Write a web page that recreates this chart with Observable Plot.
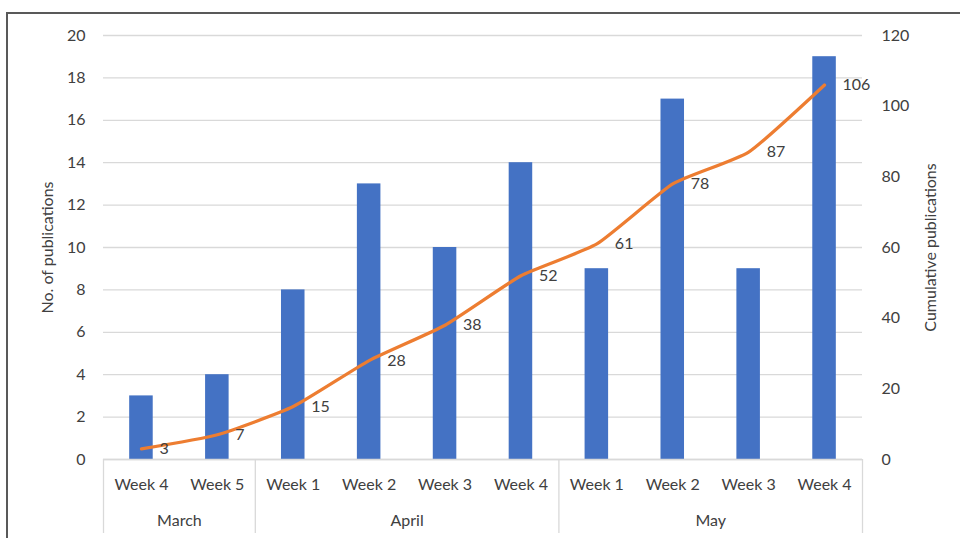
<!DOCTYPE html>
<html>
<head>
<meta charset="utf-8">
<script src="https://cdn.jsdelivr.net/npm/d3@7"></script>
<script src="https://cdn.jsdelivr.net/npm/@observablehq/plot@0.6"></script>
<style>
  html, body { margin: 0; padding: 0; background: #fff; }
  #wrap { position: relative; width: 960px; height: 538px; overflow: hidden; }
  #frame { position: absolute; left: 6px; top: 12px; width: 980px; height: 600px;
           border-left: 2px solid #595959; border-top: 2px solid #595959; box-sizing: border-box; }
  #chart { position: absolute; left: 0; top: 0; }
</style>
</head>
<body>
<div id="wrap"><div id="frame"></div><div id="chart"></div></div>
<script>
const months = ["March", "March", "April", "April", "April", "April", "May", "May", "May", "May"];
const weeks = ["Week 4", "Week 5", "Week 1", "Week 2", "Week 3", "Week 4", "Week 1", "Week 2", "Week 3", "Week 4"];
const publications = [3, 4, 8, 13, 10, 14, 9, 17, 9, 19];
const cumulative = [3, 7, 15, 28, 38, 52, 61, 78, 87, 106];
const leftTicks = [0, 2, 4, 6, 8, 10, 12, 14, 16, 18, 20];
const rightTicks = [0, 20, 40, 60, 80, 100, 120];
const ratio = 120 / 20;

const data = weeks.map((w, i) => ({i, week: w, month: months[i], n: publications[i], cum: cumulative[i]}));

// month groups
const groups = [];
months.forEach((m, i) => {
  const g = groups[groups.length - 1];
  if (g && g.month === m) g.end = i + 1;
  else groups.push({month: m, start: i, end: i + 1});
});
const bounds = [0, ...groups.map(g => g.end)];

const font = "Lato, 'Open Sans', sans-serif";
const grey = "#404040";
const gridC = "#d9d9d9";
const fs = 16;

const chart = Plot.plot({
  width: 960,
  height: 538,
  marginTop: 35,
  marginBottom: 79,
  marginLeft: 103,
  marginRight: 98,
  style: {fontFamily: font, fontSize: fs + "px", color: grey, background: "transparent", overflow: "visible"},
  x: {domain: [0, weeks.length], axis: null},
  y: {domain: [0, 20], axis: null},
  marks: [
    Plot.ruleY(leftTicks, {stroke: gridC, strokeWidth: 1.3}),
    Plot.rectY(data, {x1: d => d.i + 0.345, x2: d => d.i + 0.655, y: "n", fill: "#4472C4"}),
    Plot.line(data, {x: d => d.i + 0.5, y: d => d.cum / ratio, stroke: "#ED7D31", strokeWidth: 3.2, curve: "cardinal", tension: 0.5}),
    Plot.text(data, {x: d => d.i + 0.5, y: d => d.cum / ratio, text: d => String(d.cum), dx: 18, textAnchor: "start", fill: grey, fontSize: fs}),
    // left axis
    Plot.axisY(leftTicks, {anchor: "left", tickSize: 0, tickPadding: 18, fill: grey, fontSize: fs, label: null}),
    // right axis
    Plot.axisY(rightTicks.map(t => t / ratio), {anchor: "right", tickSize: 0, tickPadding: 19, fill: grey, fontSize: fs, label: null, tickFormat: d => String(Math.round(d * ratio))}),
    // category axis line and separators
    Plot.ruleY([0], {stroke: gridC, strokeWidth: 1.3}),
    Plot.ruleX(bounds, {y1: 0, y2: 0, stroke: gridC, strokeWidth: 1.3, insetBottom: -74}),
    Plot.text(data, {x: d => d.i + 0.5, y: 0, text: "week", dy: 25, fill: grey, fontSize: fs}),
    Plot.text(groups, {x: d => (d.start + d.end) / 2, y: 0, text: "month", dy: 61, fill: grey, fontSize: fs}),
    // axis titles
    Plot.text(["No. of publications"], {frameAnchor: "left", dx: -56, rotate: -90, fill: grey, fontSize: fs, textAnchor: "middle"}),
    Plot.text(["Cumulative publications"], {frameAnchor: "right", dx: 68, rotate: -90, fill: grey, fontSize: fs, textAnchor: "middle"})
  ]
});
document.getElementById("chart").appendChild(chart);
</script>
</body>
</html>
